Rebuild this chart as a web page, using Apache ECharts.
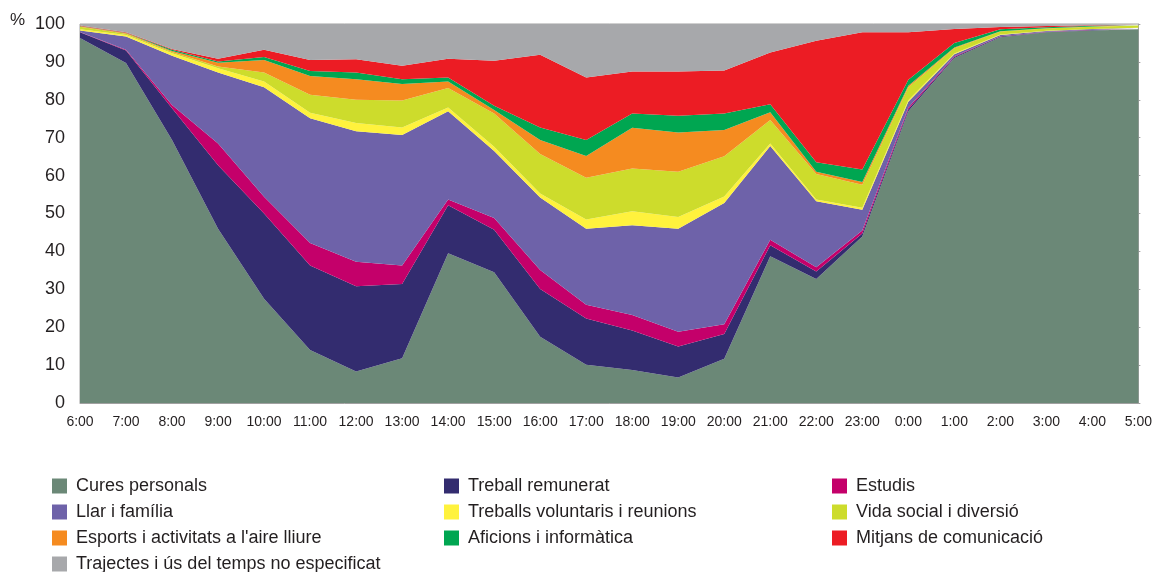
<!DOCTYPE html>
<html>
<head>
<meta charset="utf-8">
<script src="https://cdn.jsdelivr.net/npm/echarts@6/dist/echarts.min.js"></script>
<style>
  html, body { margin: 0; padding: 0; background: #fff; }
  #chart { width: 1155px; height: 572px; }
</style>
</head>
<body>
<div id="chart"></div>
<script>
const hours = ["6:00", "7:00", "8:00", "9:00", "10:00", "11:00", "12:00", "13:00", "14:00", "15:00", "16:00", "17:00",
  "18:00", "19:00", "20:00", "21:00", "22:00", "23:00", "0:00", "1:00", "2:00", "3:00", "4:00", "5:00"];

// % de persones que fan cada activitat, per hora
const curesPersonals = [96.3, 89.7, 69.4, 46.0, 27.5, 14.0, 8.3, 11.8, 39.5, 34.5, 17.5, 10.1, 8.7, 6.7, 11.7, 38.7, 32.7, 43.9, 77.0, 91.0, 96.5, 97.8, 98.3, 98.6];
const treballRemunerat = [1.5, 3.3, 8.4, 16.7, 22.5, 22.3, 22.5, 19.6, 12.7, 11.2, 12.6, 12.2, 10.4, 8.2, 6.5, 2.9, 2.0, 0.8, 0.5, 0.3, 0.2, 0.1, 0.1, 0.1];
const estudis = [0.1, 0.2, 0.8, 5.8, 4.4, 5.9, 6.5, 4.9, 1.5, 3.1, 5.0, 3.6, 4.1, 3.9, 2.6, 1.5, 1.1, 0.8, 0.5, 0.2, 0.1, 0.05, 0.05, 0.05];
const llarFamilia = [0.4, 3.5, 13.0, 18.7, 28.9, 32.9, 34.4, 34.4, 23.3, 17.7, 19.1, 20.1, 23.7, 27.2, 32.0, 24.7, 17.4, 5.5, 1.5, 0.5, 0.3, 0.2, 0.2, 0.2];
const voluntaris = [0.3, 0.4, 0.7, 1.1, 1.5, 1.5, 2.2, 2.0, 1.0, 1.1, 1.1, 2.4, 3.7, 3.1, 1.7, 0.7, 0.5, 0.5, 0.4, 0.2, 0.1, 0.05, 0.05, 0.05];
const vidaSocial = [0.7, 0.3, 0.3, 0.5, 2.4, 4.7, 6.1, 7.1, 5.1, 8.8, 10.4, 11.0, 11.3, 11.9, 10.6, 6.2, 6.7, 6.1, 3.4, 1.4, 0.8, 0.6, 0.6, 0.6];
const esports = [0.1, 0.2, 0.3, 1.0, 3.3, 5.0, 5.4, 4.4, 1.7, 0.9, 3.7, 5.8, 10.7, 10.4, 6.9, 2.0, 0.6, 0.7, 0.4, 0.2, 0.1, 0.05, 0.05, 0.05];
const aficions = [0.1, 0.1, 0.3, 0.3, 0.8, 1.3, 1.8, 1.2, 1.1, 1.1, 3.3, 4.2, 3.8, 4.4, 4.4, 2.1, 2.5, 3.3, 1.6, 1.2, 0.5, 0.3, 0.2, 0.1];
const mitjans = [0.1, 0.1, 0.2, 0.7, 1.9, 2.9, 3.5, 3.6, 4.9, 11.9, 19.2, 16.5, 11.1, 11.7, 11.3, 13.7, 32.1, 36.2, 12.5, 3.7, 0.6, 0.3, 0.1, 0.05];
const trajectes = [0.4, 2.2, 6.6, 9.2, 6.8, 9.5, 9.3, 11.0, 9.2, 9.7, 8.1, 14.1, 12.5, 12.5, 12.3, 7.5, 4.4, 2.2, 2.2, 1.3, 0.8, 0.5, 0.3, 0.2];

const activities = [
  { name: "Cures personals", data: curesPersonals, color: "#6b8877" },
  { name: "Treball remunerat", data: treballRemunerat, color: "#332c6f" },
  { name: "Estudis", data: estudis, color: "#c4006a" },
  { name: "Llar i família", data: llarFamilia, color: "#6e62a9" },
  { name: "Treballs voluntaris i reunions", data: voluntaris, color: "#fff23d" },
  { name: "Vida social i diversió", data: vidaSocial, color: "#cddc2c" },
  { name: "Esports i activitats a l'aire lliure", data: esports, color: "#f58b20" },
  { name: "Aficions i informàtica", data: aficions, color: "#00a651" },
  { name: "Mitjans de comunicació", data: mitjans, color: "#ec1c24" },
  { name: "Trajectes i ús del temps no especificat", data: trajectes, color: "#a7a8ab" },
];

const textColor = "#231f20";
const font = "'Liberation Sans', Arial, sans-serif";

function legendColumn(left, top, names) {
  return {
    orient: "vertical",
    left: left,
    top: top,
    padding: 0,
    itemWidth: 15,
    itemHeight: 15,
    itemGap: 8,
    icon: "rect",
    selectedMode: false,
    data: names,
    textStyle: { fontSize: 18, color: textColor, fontFamily: font, padding: [0, 0, 0, 4] },
  };
}

const names = activities.map((a) => a.name);

const chart = echarts.init(document.getElementById("chart"), null, { renderer: "canvas" });

chart.setOption({
  animation: false,
  textStyle: { fontFamily: font },
  grid: { left: 80, right: 6, top: 24, bottom: 169, show: true, borderColor: "#a0a0a0", borderWidth: 1 },
  graphic: [{
    type: "text",
    left: 10,
    top: 12,
    style: { text: "%", fontSize: 17, fill: textColor, fontFamily: font },
  }],
  legend: [
    legendColumn(52, 477, [names[0], names[3], names[6]]),
    legendColumn(52, 555, [names[9]]),
    legendColumn(444, 477, [names[1], names[4], names[7]]),
    legendColumn(832, 477, [names[2], names[5], names[8]]),
  ],
  xAxis: {
    type: "category",
    data: hours,
    boundaryGap: false,
    axisLine: { lineStyle: { color: "#a0a0a0" } },
    axisTick: { show: false },
    axisLabel: { color: textColor, fontSize: 14, margin: 12, interval: 0 },
  },
  yAxis: [{
    type: "value",
    min: 0,
    max: 100,
    interval: 10,
    axisLine: { show: false },
    axisTick: { show: false },
    splitLine: { show: false },
    axisLabel: { color: textColor, fontSize: 18, margin: 15 },
  }, {
    type: "value",
    position: "right",
    min: 0,
    max: 100,
    interval: 10,
    axisLine: { show: true, lineStyle: { color: "#a0a0a0" } },
    axisTick: { show: true, length: 2, lineStyle: { color: "#a0a0a0" } },
    axisLabel: { show: false },
    splitLine: { show: false },
  }],
  series: activities.map((a) => ({
    name: a.name,
    type: "line",
    stack: "total",
    data: a.data,
    symbol: "none",
    color: a.color,
    lineStyle: { width: 0 },
    areaStyle: { color: a.color, opacity: 1 },
  })),
});
</script>
</body>
</html>
